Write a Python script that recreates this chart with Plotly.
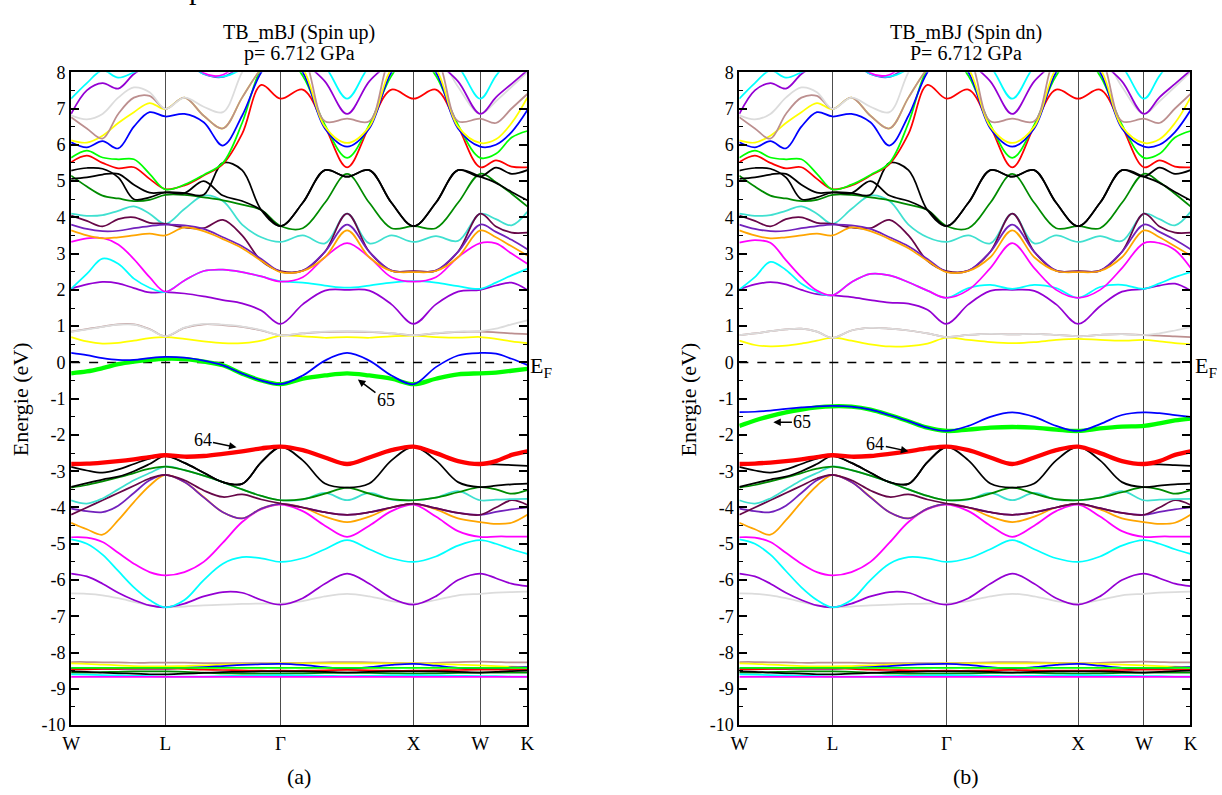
import plotly.graph_objects as go

# ---------------- data ----------------
K = [0.0, 0.1179, 0.2357, 0.3536, 0.4714, 0.5893, 0.7071,
     0.8514, 0.9958, 1.1401, 1.2844, 1.4288, 1.5731,
     1.7398, 1.9064, 2.0731, 2.2398, 2.4064, 2.5731,
     2.7398, 2.9064, 3.0731,
     3.1910, 3.3088, 3.4267]
SYM_K = [0.0, 0.7071, 1.5731, 2.5731, 3.0731, 3.4267]
SYM_LABELS = ["W", "L", "Γ", "X", "W", "K"]
YTICKS = [-10, -9, -8, -7, -6, -5, -4, -3, -2, -1, 0, 1, 2, 3, 4, 5, 6, 7, 8]
YTICK_LABELS = ["-10", "-9", "-8", "-7", "-6", "-5", "-4", "-3", "-2", "-1",
                "0", "1", "2", "3", "4", "5", "6", "7", "8"]
E_FERMI = 0.0

# flat semicore cluster (shared)
FLAT_BROWN = [-8.26, -8.26, -8.27, -8.27, -8.28, -8.28, -8.28, -8.28, -8.29, -8.29, -8.29, -8.29, -8.29,
              -8.28, -8.27, -8.26, -8.27, -8.28, -8.29, -8.28, -8.26, -8.25, -8.26, -8.27, -8.27]
FLAT_YELLOW = [-8.30, -8.31, -8.33, -8.35, -8.37, -8.38, -8.38, -8.37, -8.35, -8.33, -8.32, -8.31, -8.30,
               -8.30, -8.30, -8.30, -8.30, -8.30, -8.30, -8.31, -8.33, -8.35, -8.37, -8.39, -8.40]
FLAT_BLUE = [-8.44, -8.44, -8.44, -8.44, -8.44, -8.44, -8.44, -8.42, -8.40, -8.37, -8.34, -8.32, -8.31,
             -8.34, -8.40, -8.44, -8.40, -8.34, -8.31, -8.36, -8.42, -8.44, -8.43, -8.41, -8.40]
FLAT_LIME = [-8.42, -8.42, -8.42, -8.42, -8.42, -8.42, -8.42, -8.42, -8.42, -8.42, -8.42, -8.42, -8.42,
             -8.42, -8.42, -8.42, -8.42, -8.42, -8.42, -8.42, -8.42, -8.42, -8.42, -8.42, -8.42]
FLAT_RED = [-8.46, -8.46, -8.45, -8.45, -8.44, -8.44, -8.44, -8.45, -8.47, -8.48, -8.49, -8.50, -8.50,
            -8.50, -8.49, -8.48, -8.49, -8.50, -8.50, -8.49, -8.48, -8.47, -8.47, -8.47, -8.47]
FLAT_BLACK = [-8.52, -8.53, -8.55, -8.57, -8.58, -8.60, -8.60, -8.58, -8.56, -8.54, -8.53, -8.52, -8.52,
              -8.52, -8.53, -8.55, -8.53, -8.52, -8.52, -8.52, -8.53, -8.55, -8.53, -8.51, -8.50]
FLAT_GREEN4 = [-8.55, -8.55, -8.54, -8.53, -8.52, -8.52, -8.52, -8.53, -8.55, -8.57, -8.58, -8.58, -8.58,
               -8.57, -8.56, -8.55, -8.56, -8.57, -8.58, -8.57, -8.56, -8.55, -8.55, -8.55, -8.55]
FLAT_CYAN = [-8.60, -8.61, -8.62, -8.63, -8.64, -8.65, -8.66, -8.66, -8.66, -8.65, -8.64, -8.63, -8.62,
             -8.63, -8.64, -8.65, -8.64, -8.63, -8.62, -8.63, -8.64, -8.65, -8.65, -8.66, -8.66]
FLAT_MAGENTA = [-8.67, -8.67, -8.67, -8.67, -8.67, -8.67, -8.67, -8.67, -8.67, -8.67, -8.67, -8.67, -8.67,
                -8.67, -8.67, -8.67, -8.67, -8.67, -8.67, -8.67, -8.67, -8.67, -8.67, -8.67, -8.67]

# valence bands (shared)
GREY_LOW = [-6.37, -6.38, -6.42, -6.50, -6.60, -6.70, -6.75, -6.73, -6.70, -6.68, -6.66, -6.65, -6.65,
            -6.58, -6.45, -6.38, -6.45, -6.58, -6.65, -6.55, -6.42, -6.38, -6.35, -6.33, -6.32]
VIOLET_LOW = [-5.82, -5.90, -6.10, -6.35, -6.55, -6.70, -6.75, -6.65, -6.45, -6.33, -6.35, -6.55, -6.68,
              -6.50, -6.10, -5.82, -6.10, -6.50, -6.68, -6.45, -6.00, -5.82, -5.95, -6.10, -6.17]
CYAN_LOW = [-4.88, -5.00, -5.30, -5.75, -6.20, -6.55, -6.75, -6.55, -6.00, -5.55, -5.37, -5.40, -5.50,
            -5.40, -5.15, -4.90, -5.15, -5.40, -5.50, -5.35, -5.05, -4.90, -5.00, -5.15, -5.28]
MAGENTA_LOW = [-4.82, -4.83, -4.95, -5.25, -5.55, -5.78, -5.87, -5.78, -5.50, -4.97, -4.40, -4.05, -3.92,
               -4.10, -4.50, -4.81, -4.50, -4.10, -3.92, -4.25, -4.65, -4.81, -4.80, -4.80, -4.80]
ORANGE_LOW = [-4.42, -4.60, -4.75, -4.35, -3.85, -3.40, -3.10, -3.30, -3.71, -4.13, -4.30, -4.03, -3.90,
              -4.00, -4.25, -4.40, -4.25, -4.00, -3.90, -4.05, -4.30, -4.40, -4.45, -4.42, -4.20]
INDIGO_LOW = [-4.03, -4.10, -4.13, -3.95, -3.60, -3.25, -3.10, -3.30, -3.72, -4.13, -4.30, -4.03, -3.90,
              -4.00, -4.13, -4.20, -4.13, -4.00, -3.90, -4.02, -4.15, -4.20, -4.12, -4.05, -4.00]
MAROON_LOW = [-4.20, -4.00, -3.80, -3.60, -3.40, -3.20, -3.10, -3.25, -3.53, -3.71, -3.64, -3.78, -3.89,
              -4.00, -4.13, -4.20, -4.13, -4.00, -3.89, -4.02, -4.15, -4.20, -4.00, -3.80, -3.93]
TURQ_LOW = [-3.80, -3.89, -3.75, -3.50, -3.25, -3.05, -2.87, -2.97, -3.12, -3.30, -3.50, -3.68, -3.80,
            -3.78, -3.60, -3.80, -3.60, -3.78, -3.80, -3.73, -3.55, -3.80, -3.78, -3.77, -3.76]
GREEN4_LOW = [-3.45, -3.38, -3.28, -3.17, -3.05, -2.93, -2.87, -2.97, -3.12, -3.30, -3.50, -3.68, -3.80,
              -3.77, -3.62, -3.45, -3.62, -3.77, -3.80, -3.73, -3.58, -3.44, -3.50, -3.62, -3.52]
BLACK_LOW_A = [-2.88, -2.98, -3.04, -2.95, -2.80, -2.65, -2.58, -2.77, -3.04, -3.30, -3.35, -2.75, -2.33,
               -2.70, -3.34, -3.45, -3.34, -2.70, -2.33, -2.70, -3.30, -3.44, -3.40, -3.36, -3.34]
BLACK_LOW_B = [-3.43, -3.33, -3.23, -3.15, -3.00, -2.80, -2.58, -2.77, -3.04, -3.30, -3.35, -2.75, -2.33,
               -2.42, -2.62, -2.80, -2.62, -2.42, -2.32, -2.50, -2.72, -2.80, -2.81, -2.83, -2.85]
RED_64 = [-2.80, -2.79, -2.76, -2.72, -2.67, -2.61, -2.56, -2.60, -2.58, -2.52, -2.45, -2.37, -2.32,
          -2.42, -2.62, -2.80, -2.62, -2.42, -2.32, -2.50, -2.72, -2.80, -2.72, -2.55, -2.45]

# conduction bands (shared)
TURQ_MID = [4.10, 4.04, 4.06, 4.18, 4.30, 4.10, 3.82, 4.23, 4.60, 4.45, 3.80, 3.45, 3.32,
            3.50, 3.28, 4.10, 3.28, 3.50, 3.32, 3.48, 3.35, 4.10, 3.95, 3.78, 4.15]
MAROON_MID = [4.05, 3.90, 3.75, 3.95, 4.00, 3.85, 3.82, 3.72, 3.70, 3.93, 3.50, 2.80, 2.52,
              2.53, 3.05, 4.10, 3.05, 2.53, 2.52, 2.53, 3.05, 4.10, 3.75, 3.58, 3.58]
INDIGO_MID = [3.80, 3.68, 3.62, 3.63, 3.70, 3.76, 3.80, 3.78, 3.68, 3.45, 3.20, 2.85, 2.50,
              2.53, 3.05, 3.80, 3.05, 2.53, 2.50, 2.53, 3.05, 3.80, 3.60, 3.38, 3.12]
ORANGE_MID = [3.64, 3.50, 3.42, 3.45, 3.50, 3.55, 3.50, 3.72, 3.62, 3.40, 3.15, 2.80, 2.49,
              2.52, 2.90, 3.64, 2.90, 2.52, 2.49, 2.52, 2.90, 3.64, 3.45, 3.20, 2.95]
GREEN4_HI = [5.15, 4.85, 4.60, 4.52, 4.45, 4.48, 4.62, 4.62, 4.55, 4.47, 4.35, 4.20, 3.76,
             3.70, 4.40, 5.20, 4.40, 3.70, 3.76, 3.70, 4.40, 5.20, 4.97, 4.65, 4.30]
BLACK_HI1 = [5.29, 5.36, 5.34, 5.10, 4.50, 4.55, 4.69, 4.67, 4.62, 5.50, 5.30, 4.20, 3.76,
             4.40, 5.30, 5.12, 5.30, 4.40, 3.76, 4.40, 5.30, 5.12, 5.37, 5.20, 5.30]
BLACK_HI2 = [5.06, 5.10, 5.18, 5.20, 4.90, 4.68, 4.69, 4.67, 5.00, 4.60, 4.45, 4.20, 3.76,
             4.40, 5.30, 5.12, 5.30, 4.40, 3.76, 4.40, 5.30, 5.12, 4.95, 4.70, 4.47]
RED_HI = [5.52, 5.70, 5.50, 5.35, 5.38, 5.06, 4.78, 4.88, 5.15, 5.47, 6.30, 7.65, 7.27,
          7.52, 6.50, 5.38, 6.50, 7.52, 7.27, 7.52, 6.50, 5.38, 5.57, 5.40, 5.38]
LIME_HI = [5.64, 5.84, 5.65, 5.60, 5.60, 5.20, 4.77, 4.90, 5.17, 5.50, 6.60, 8.10, 8.60,
           7.90, 6.55, 5.64, 6.55, 7.90, 8.60, 7.90, 6.55, 5.64, 5.75, 6.20, 6.38]
BLUE_HI = [6.07, 5.93, 6.10, 5.90, 6.50, 6.90, 6.78, 6.85, 6.62, 5.98, 6.80, 8.00, 8.60,
           8.00, 6.45, 5.95, 6.45, 8.00, 8.60, 8.00, 6.45, 5.95, 6.00, 6.35, 6.95]
YELLOW_HI = [6.12, 6.06, 6.25, 6.60, 6.90, 7.15, 6.98, 7.30, 6.80, 6.45, 7.30, 8.10, 8.60,
             8.10, 6.50, 6.05, 6.50, 8.10, 8.60, 8.10, 6.50, 6.05, 6.15, 6.60, 7.30]
BROWN_HI = [6.76, 6.45, 6.17, 6.85, 7.30, 7.35, 6.99, 7.30, 6.80, 6.45, 7.30, 8.10, 8.60,
            8.40, 6.65, 6.72, 6.65, 8.40, 8.60, 8.40, 6.65, 6.72, 6.60, 7.00, 7.40]
GREY_HI = [6.81, 6.70, 6.85, 7.30, 7.58, 7.45, 6.99, 7.30, 7.05, 6.90, 8.00, 8.80, 9.00,
           9.00, 9.00, 9.00, 9.00, 9.00, 9.00, 8.60, 7.60, 6.85, 7.20, 7.60, 8.00]
VIOLET_TOP = [6.85, 7.50, 7.70, 7.55, 7.95, 8.20, 8.30, 8.30, 7.95, 7.87, 8.20, 8.60, 8.80,
              8.30, 7.75, 6.85, 7.75, 8.30, 8.80, 8.30, 7.75, 6.85, 7.31, 7.68, 8.05]
CYAN_TOP = [7.27, 7.70, 8.05, 7.85, 8.00, 8.20, 8.40, 8.30, 7.95, 7.88, 8.10, 8.60, 8.80,
            8.50, 8.15, 7.27, 8.15, 8.50, 8.80, 8.50, 8.15, 7.27, 7.90, 8.40, 8.60]
MAGENTA_TOP = [9.00, 9.00, 9.00, 9.00, 9.00, 9.00, 9.00, 8.60, 7.98, 7.93, 8.40, 9.00, 9.00,
               9.00, 9.00, 9.00, 9.00, 9.00, 9.00, 9.00, 9.00, 9.00, 9.00, 9.00, 9.00]

# spin-up specific bands
YELLOW_MID_UP = [0.70, 0.58, 0.52, 0.54, 0.60, 0.67, 0.70, 0.65, 0.58, 0.53, 0.53, 0.60, 0.74,
                 0.72, 0.68, 0.70, 0.68, 0.72, 0.74, 0.70, 0.68, 0.70, 0.65, 0.58, 0.53]
BROWN_MID_UP = [0.85, 0.92, 0.99, 1.05, 1.05, 0.92, 0.72, 0.95, 1.05, 1.03, 0.98, 0.88, 0.75,
                0.80, 0.84, 0.85, 0.84, 0.80, 0.75, 0.80, 0.84, 0.85, 0.83, 0.80, 0.78]
GREY_MID_UP = [0.84, 0.91, 0.98, 1.04, 1.04, 0.91, 0.72, 0.96, 1.06, 1.04, 0.99, 0.89, 0.75,
               0.81, 0.85, 0.86, 0.85, 0.81, 0.75, 0.81, 0.85, 0.86, 0.93, 1.05, 1.16]
VIOLET_MID_UP = [2.03, 2.15, 2.22, 2.18, 2.05, 1.93, 1.94, 1.90, 1.82, 1.72, 1.63, 1.43, 1.06,
                 1.60, 1.98, 2.00, 1.98, 1.60, 1.06, 1.60, 1.95, 2.00, 2.12, 2.20, 2.00]
CYAN_MID_UP = [2.03, 2.44, 2.86, 2.72, 2.31, 2.06, 1.94, 2.26, 2.52, 2.56, 2.49, 2.37, 2.24,
               2.20, 2.12, 2.06, 2.12, 2.20, 2.24, 2.20, 2.10, 2.03, 2.20, 2.40, 2.58]
MAGENTA_MID_UP = [3.32, 3.42, 3.43, 3.25, 2.85, 2.35, 1.95, 2.26, 2.52, 2.56, 2.49, 2.37, 2.23,
                  2.35, 2.90, 3.29, 2.90, 2.35, 2.23, 2.35, 2.90, 3.29, 3.28, 3.00, 2.72]
BLUE_EF_UP = [0.26, 0.20, 0.12, 0.07, 0.07, 0.12, 0.15, 0.13, 0.05, -0.08, -0.31, -0.50, -0.60,
              -0.36, 0.05, 0.26, 0.05, -0.36, -0.60, -0.13, 0.19, 0.26, 0.24, 0.10, -0.07]
GREEN_65_UP = [-0.30, -0.25, -0.16, -0.05, 0.02, 0.07, 0.10, 0.09, 0.02, -0.08, -0.31, -0.50, -0.60,
               -0.45, -0.36, -0.30, -0.36, -0.45, -0.60, -0.45, -0.33, -0.30, -0.28, -0.23, -0.18]

# spin-down specific bands
YELLOW_MID_DN = [0.60, 0.48, 0.44, 0.46, 0.52, 0.60, 0.68, 0.60, 0.50, 0.44, 0.45, 0.52, 0.68,
                 0.62, 0.56, 0.53, 0.56, 0.62, 0.65, 0.62, 0.60, 0.62, 0.58, 0.53, 0.50]
BROWN_MID_DN = [0.75, 0.80, 0.86, 0.91, 0.93, 0.85, 0.68, 0.88, 0.95, 0.93, 0.88, 0.80, 0.70,
                0.76, 0.79, 0.77, 0.79, 0.76, 0.72, 0.76, 0.78, 0.75, 0.74, 0.72, 0.70]
GREY_MID_DN = [0.75, 0.80, 0.86, 0.91, 0.93, 0.85, 0.68, 0.88, 0.95, 0.93, 0.88, 0.80, 0.70,
               0.76, 0.79, 0.77, 0.79, 0.76, 0.72, 0.76, 0.78, 0.75, 0.80, 0.88, 0.97]
VIOLET_MID_DN = [2.01, 2.15, 2.21, 2.15, 2.00, 1.88, 1.85, 1.80, 1.72, 1.65, 1.62, 1.45, 1.06,
                 1.60, 1.97, 2.00, 1.97, 1.60, 1.06, 1.55, 1.95, 2.03, 2.12, 2.17, 1.98]
CYAN_MID_DN = [2.01, 2.35, 2.77, 2.55, 2.17, 1.94, 1.85, 2.21, 2.44, 2.40, 2.21, 1.98, 1.78,
               2.05, 2.14, 2.03, 2.14, 2.05, 1.78, 2.08, 2.14, 2.03, 2.18, 2.35, 2.49]
MAGENTA_MID_DN = [3.30, 3.37, 3.30, 2.82, 2.35, 1.98, 1.85, 2.21, 2.44, 2.40, 2.21, 1.98, 1.78,
                  2.00, 2.60, 3.29, 2.60, 2.00, 1.78, 2.00, 2.60, 3.29, 3.29, 3.10, 2.61]
BLUE_EF_DN = [-1.37, -1.36, -1.33, -1.28, -1.24, -1.21, -1.20, -1.22, -1.30, -1.45, -1.62, -1.80, -1.89,
              -1.75, -1.50, -1.38, -1.50, -1.75, -1.89, -1.70, -1.45, -1.38, -1.40, -1.45, -1.50]
GREEN_65_DN = [-1.75, -1.60, -1.48, -1.38, -1.30, -1.24, -1.21, -1.22, -1.30, -1.45, -1.62, -1.80, -1.89,
               -1.85, -1.80, -1.78, -1.80, -1.85, -1.89, -1.82, -1.77, -1.75, -1.68, -1.60, -1.55]

# ---------------- style ----------------
BLACK, RED, LIME, BLUE = "#000000", "#ff0000", "#00ff00", "#0000ff"
YELLOW, BROWN, GREY, VIOLET = "#ffff00", "#bc8f8f", "#dcdcdc", "#9400d3"
CYAN, MAGENTA, ORANGE, INDIGO = "#00ffff", "#ff00ff", "#ffa500", "#7221bc"
MAROON, TURQ, GREEN4 = "#670748", "#40e0d0", "#008b00"
THIN, THICK = 1.75, 4.3
SERIF = "Liberation Serif"

shared_bottom = [
    (FLAT_BROWN, BROWN), (FLAT_YELLOW, YELLOW), (FLAT_BLUE, BLUE), (FLAT_RED, RED),
    (FLAT_LIME, LIME), (FLAT_GREEN4, GREEN4), (FLAT_BLACK, BLACK), (FLAT_CYAN, CYAN),
    (FLAT_MAGENTA, MAGENTA),
    (GREY_LOW, GREY), (VIOLET_LOW, VIOLET), (CYAN_LOW, CYAN), (MAGENTA_LOW, MAGENTA),
    (ORANGE_LOW, ORANGE), (INDIGO_LOW, INDIGO), (MAROON_LOW, MAROON), (TURQ_LOW, TURQ),
    (GREEN4_LOW, GREEN4), (BLACK_LOW_B, BLACK), (BLACK_LOW_A, BLACK),
]
shared_top = [
    (TURQ_MID, TURQ), (MAROON_MID, MAROON), (INDIGO_MID, INDIGO), (ORANGE_MID, ORANGE),
    (GREEN4_HI, GREEN4), (BLACK_HI2, BLACK), (BLACK_HI1, BLACK), (RED_HI, RED),
    (LIME_HI, LIME), (BLUE_HI, BLUE), (YELLOW_HI, YELLOW), (BROWN_HI, BROWN),
    (GREY_HI, GREY), (VIOLET_TOP, VIOLET), (CYAN_TOP, CYAN), (MAGENTA_TOP, MAGENTA),
]
panels = {
    "up": dict(xa="x", ya="y",
               spin=[(YELLOW_MID_UP, YELLOW), (BROWN_MID_UP, BROWN), (GREY_MID_UP, GREY),
                     (VIOLET_MID_UP, VIOLET), (CYAN_MID_UP, CYAN), (MAGENTA_MID_UP, MAGENTA)],
               green=GREEN_65_UP, blue=BLUE_EF_UP),
    "dn": dict(xa="x2", ya="y2",
               spin=[(YELLOW_MID_DN, YELLOW), (BROWN_MID_DN, BROWN), (GREY_MID_DN, GREY),
                     (VIOLET_MID_DN, VIOLET), (CYAN_MID_DN, CYAN), (MAGENTA_MID_DN, MAGENTA)],
               green=GREEN_65_DN, blue=BLUE_EF_DN),
}

fig = go.Figure()


def add(vals, color, width, xa, ya, dash=None, shape="spline", xs=None):
    fig.add_trace(go.Scatter(
        x=K if xs is None else xs, y=vals, mode="lines", xaxis=xa, yaxis=ya,
        line=dict(color=color, width=width, shape=shape, dash=dash),
        showlegend=False, hoverinfo="skip"))


for key, p in panels.items():
    xa, ya = p["xa"], p["ya"]
    for vals, col in shared_bottom:
        add(vals, col, THIN, xa, ya)
    for vals, col in p["spin"]:
        add(vals, col, THIN, xa, ya)
    for vals, col in shared_top:
        add(vals, col, THIN, xa, ya)
    add([E_FERMI, E_FERMI], BLACK, 1.5, xa, ya, dash="dash", shape="linear", xs=[K[0], K[-1]])
    add(RED_64, RED, THICK, xa, ya)
    add(p["green"], LIME, THICK, xa, ya)
    add(p["blue"], BLUE, THIN, xa, ya)

# The captured page is slightly larger than the figure (page margin), and the
# capture is then fitted to 1222x795; compensate so the chart lands where wanted.
FW, FH = 1222, 795
S_X, O_X = 0.9866, 9.0
S_Y, O_Y = 0.975, 10.0


def px_x(px):
    return (px / S_X - O_X) / FW


def px_y(py):
    return 1 - (py / S_Y - O_Y) / FH


Y_DOM = [px_y(725), px_y(72)]
axis_common_x = dict(range=[K[0], K[-1]], tickmode="array", tickvals=SYM_K, ticktext=SYM_LABELS,
                     ticks="", showgrid=True, gridcolor="#4d4d4d", gridwidth=1.1, zeroline=False,
                     showline=True, linecolor="black", linewidth=2, mirror=True,
                     tickfont=dict(family=SERIF, size=19, color="black"))
axis_common_y = dict(range=[-10, 8], tickmode="array", tickvals=YTICKS, ticktext=YTICK_LABELS,
                     ticks="inside", ticklen=8, tickwidth=1.5, tickcolor="black",
                     minor=dict(dtick=0.5, tick0=0, ticks="inside", ticklen=4, tickwidth=1.2, tickcolor="black"),
                     showgrid=False, zeroline=False, showline=True, linecolor="black",
                     linewidth=2, mirror="ticks",
                     tickfont=dict(family=SERIF, size=18, color="black"))

fig.update_layout(
    width=FW, height=FH, margin=dict(l=0, r=0, t=0, b=0),
    paper_bgcolor="white", plot_bgcolor="white", showlegend=False,
    xaxis=dict(domain=[px_x(71), px_x(527)], anchor="y", **axis_common_x),
    yaxis=dict(domain=Y_DOM, anchor="x", **axis_common_y),
    xaxis2=dict(domain=[px_x(739), px_x(1190)], anchor="y2", **axis_common_x),
    yaxis2=dict(domain=Y_DOM, anchor="x2", **axis_common_y),
)

ann = []
tf = dict(family=SERIF, size=20, color="black")
for cx, l1, l2, lab in [(299, "TB_mBJ (Spin up)", "p= 6.712 GPa", "(a)"),
                        (966, "TB_mBJ (Spin dn)", "P= 6.712 GPa", "(b)")]:
    ann.append(dict(x=px_x(cx), y=px_y(32), xref="paper", yref="paper", text=l1, showarrow=False,
                    font=tf, xanchor="center", yanchor="middle"))
    ann.append(dict(x=px_x(cx), y=px_y(53), xref="paper", yref="paper", text=l2, showarrow=False,
                    font=tf, xanchor="center", yanchor="middle"))
    ann.append(dict(x=px_x(cx), y=px_y(776), xref="paper", yref="paper", text=lab, showarrow=False,
                    font=dict(family=SERIF, size=22, color="black"), xanchor="center", yanchor="middle"))
for xp in [20, 688]:
    ann.append(dict(x=px_x(xp), y=px_y(399), xref="paper", yref="paper", text="Energie (eV)",
                    showarrow=False, textangle=-90, font=dict(family=SERIF, size=22, color="black"),
                    xanchor="center", yanchor="middle"))
for xp in [528, 1193]:
    ann.append(dict(x=px_x(xp), y=px_y(367), xref="paper", yref="paper", text="E<sub>F</sub>",
                    showarrow=False, font=dict(family=SERIF, size=22, color="black"),
                    xanchor="left", yanchor="middle"))
# cut-off glyph at the very top of the page (only its lower part shows)
ann.append(dict(x=px_x(196), y=px_y(-12), xref="paper", yref="paper", text="p", showarrow=False,
                font=dict(family=SERIF, size=30, color="black"), xanchor="center", yanchor="middle"))

lab_font = dict(family=SERIF, size=18, color="black")
for xr, yr, text, hx, hy, tx, ty in [
        ("x", "y", "64", 1.2427, -2.34, 0.987, -2.15),
        ("x", "y", "65", 2.154, -0.47, 2.365, -1.05),
        ("x2", "y2", "65", 0.258, -1.65, 0.479, -1.65),
        ("x2", "y2", "64", 1.284, -2.45, 1.033, -2.26)]:
    ann.append(dict(x=hx, y=hy, xref=xr, yref=yr, ax=tx, ay=ty, axref=xr, ayref=yr, text=text,
                    showarrow=True, arrowhead=2, arrowsize=1, arrowwidth=1.5, arrowcolor="black",
                    font=lab_font, standoff=0, startstandoff=0))
fig.update_layout(annotations=ann)

fig.write_html("out.html")
